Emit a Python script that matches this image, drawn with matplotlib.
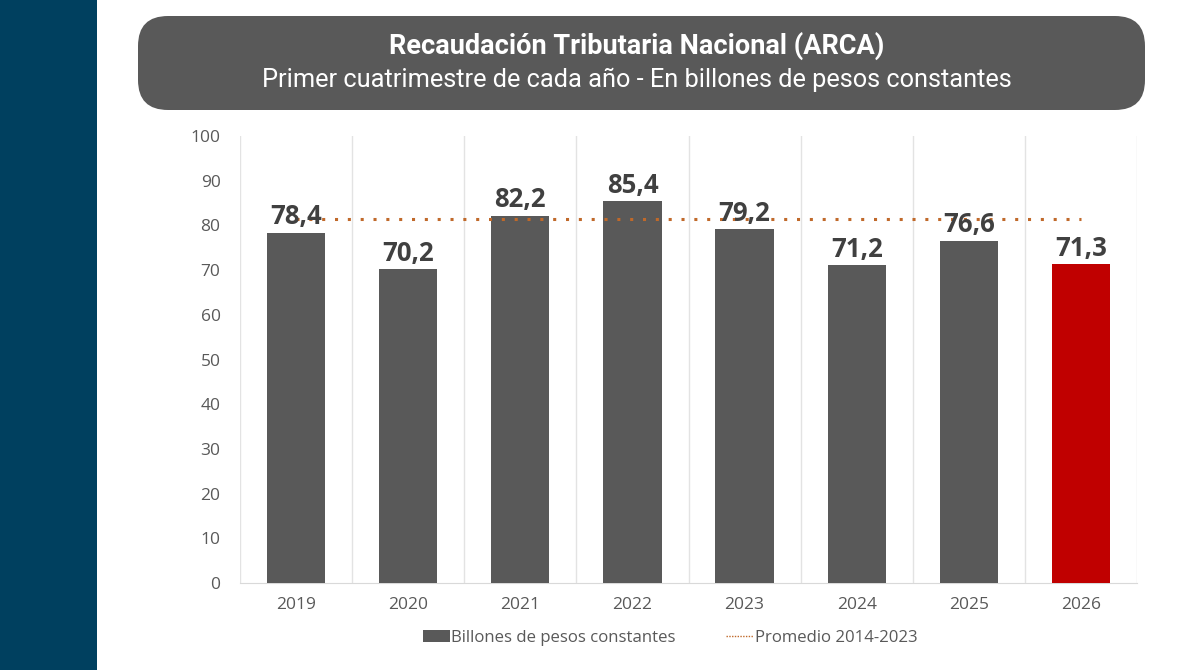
import matplotlib.pyplot as plt
from matplotlib.patches import FancyBboxPatch, Rectangle, Patch
from matplotlib.lines import Line2D

anios = ["2019", "2020", "2021", "2022", "2023", "2024", "2025", "2026"]
recaudacion = [78.4, 70.2, 82.2, 85.4, 79.2, 71.2, 76.6, 71.3]
promedio_2014_2023 = 81.4
colores = ["#595959"] * 7 + ["#C00000"]

plt.rcParams['font.family'] = ['Open Sans', 'DejaVu Sans']

fig = plt.figure(figsize=(12, 6.7), dpi=100)

# franja azul a la izquierda
fig.patches.append(Rectangle((0, 0), 97 / 1200, 1, transform=fig.transFigure,
                             facecolor="#00405F", edgecolor="none"))

# caja del titulo
fig.patches.append(FancyBboxPatch((138 / 1200, 1 - 110 / 670), (1145 - 138) / 1200, 94 / 670,
                                  boxstyle="round,pad=0,rounding_size=0.025",
                                  transform=fig.transFigure, facecolor="#595959",
                                  edgecolor="none", mutation_aspect=1.79))
fig.text(637 / 1200, 1 - 46 / 670, "Recaudación Tributaria Nacional (ARCA)", color="white",
         fontsize=19.5, fontweight="bold", ha="center", va="center",
         family=['Roboto', 'DejaVu Sans'])
fig.text(637 / 1200, 1 - 80 / 670, "Primer cuatrimestre de cada año - En billones de pesos constantes",
         color="white", fontsize=18.3, ha="center", va="center",
         family=['Roboto', 'DejaVu Sans'])

ax = fig.add_axes([240 / 1200, 1 - 583 / 670, (1137 - 240) / 1200, (583 - 136) / 670])
x = list(range(len(anios)))
bars = ax.bar(x, recaudacion, width=0.52, color=colores, zorder=3)
ax.plot([x[0], x[-1]], [promedio_2014_2023] * 2, color="#C0692A", linestyle=(0, (1, 3.2)),
        linewidth=2.2, zorder=4)

for xi, v in zip(x, recaudacion):
    ax.text(xi, v + 0.5, f"{v:.1f}".replace(".", ","), ha="center", va="bottom",
            fontsize=18.5, fontweight="bold", color="#404040", zorder=5)

ax.set_xlim(-0.5, len(anios) - 0.5)
ax.set_ylim(0, 100)
ax.set_yticks(range(0, 101, 10))
ax.set_xticks(x)
ax.set_xticklabels(anios)
ax.tick_params(axis="both", length=0, labelsize=12.5, labelcolor="#595959")
ax.tick_params(axis="x", pad=10)
ax.tick_params(axis="y", pad=14)

for b in [i - 0.5 for i in range(len(anios) + 1)]:
    ax.axvline(b, color="#E3E3E3", linewidth=1, zorder=1)
for s in ["top", "right", "left"]:
    ax.spines[s].set_visible(False)
ax.spines["bottom"].set_color("#D9D9D9")

handles = [Patch(facecolor="#595959", edgecolor="none"),
           Line2D([], [], color="#C0692A", linestyle=(0, (1, 1)), linewidth=1)]
fig.legend(handles, ["Billones de pesos constantes", "Promedio 2014-2023"],
           loc="center", bbox_to_anchor=(670 / 1200, 1 - 638 / 670), ncol=2, frameon=False,
           fontsize=12.1, labelcolor="#595959", handlelength=1.6, handletextpad=0.1,
           columnspacing=3.0)

fig.savefig("out.png", dpi=100)
